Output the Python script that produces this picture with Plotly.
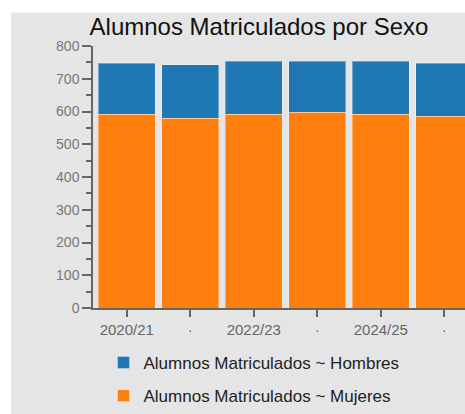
import plotly.graph_objects as go

categories = ["2020/21", "2021/22", "2022/23", "2023/24", "2024/25", "2025/26"]
tick_labels = ["2020/21", "·", "2022/23", "·", "2024/25", "·"]
mujeres = [591, 580, 591, 597, 591, 585]
hombres = [157, 163, 162, 156, 162, 163]

W, H = 465, 414
L, T, B, R = 93, 46, 103, 0
pw, ph = W - L - R, H - T - B

fig = go.Figure()
fig.add_trace(go.Bar(x=categories, y=mujeres, name="Alumnos Matriculados ~ Mujeres", legendgroup="m",
                     legendrank=2,
                     marker=dict(color="#ff7f0e", line=dict(color="rgba(255,255,255,0.35)", width=1))))
fig.add_trace(go.Bar(x=categories, y=hombres, name="Alumnos Matriculados ~ Hombres", legendgroup="h",
                     legendrank=1,
                     marker=dict(color="#1f77b4", line=dict(color="rgba(255,255,255,0.35)", width=1))))

axis_col = "#666666"
fig.update_layout(
    width=W, height=H, autosize=False,
    margin=dict(l=L, r=R, t=T, b=B, pad=0),
    barmode="stack", bargap=0.1,
    paper_bgcolor="white", plot_bgcolor="rgba(0,0,0,0)",
    font=dict(family="Liberation Sans, Arial, sans-serif"),
    title=dict(text="Alumnos Matriculados por Sexo", x=259 / W, xref="container", xanchor="center",
               y=1 - 27 / H, yref="container", yanchor="middle",
               font=dict(size=24, color="#111111")),
    xaxis=dict(type="category", range=[-0.532, 5.326], tickmode="array",
               tickvals=categories, ticktext=tick_labels,
               showline=True, linecolor=axis_col, linewidth=1.5,
               ticks="outside", ticklen=7, tickcolor=axis_col, tickwidth=1.5,
               tickfont=dict(size=15, color="#666666"), showgrid=False, zeroline=False),
    yaxis=dict(range=[0, 800], tickmode="linear", tick0=0, dtick=100,
               showline=True, linecolor=axis_col, linewidth=1.5,
               ticks="outside", ticklen=9, tickcolor=axis_col, tickwidth=1.5,
               tickfont=dict(size=14, color="#777777"), showgrid=False, zeroline=False,
               minor=dict(ticks="outside", ticklen=5, tickcolor=axis_col, dtick=50, tickwidth=1.5, showgrid=False)),
    legend=dict(orientation="v", traceorder="grouped", tracegroupgap=8,
                x=(103.5 - L) / pw, xanchor="left",
                y=(311 - 349) / ph, yanchor="top", bgcolor="rgba(0,0,0,0)",
                font=dict(size=17, color="#222222")),
    shapes=[dict(type="rect", xref="paper", yref="paper", layer="below",
                 x0=(11 - L) / pw, x1=1.1, y0=(311 - H - 5) / ph, y1=(311 - 12) / ph,
                 fillcolor="#e5e5e5", line=dict(width=0))],
)

fig.write_html("out.html", config={"displayModeBar": False},
               post_script="document.body.style.margin='0';document.body.style.overflow='hidden';")
